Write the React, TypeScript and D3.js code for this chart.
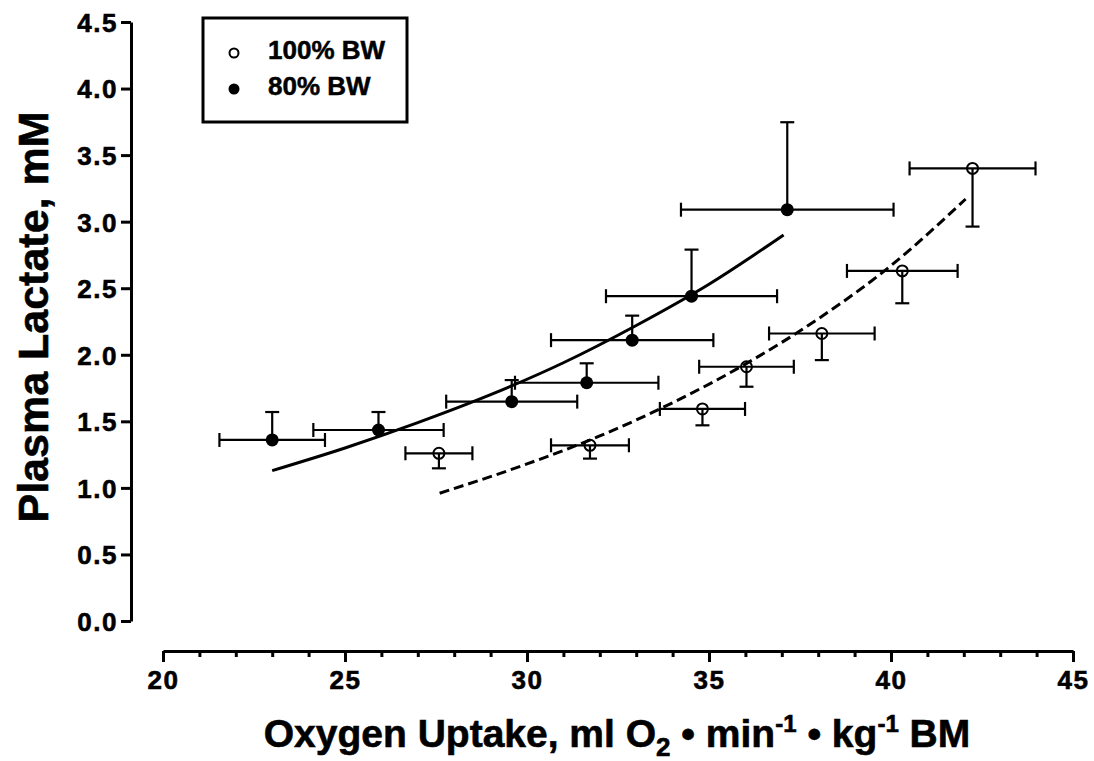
import * as d3 from "d3";
import { useEffect, useRef } from "react";

// 80% BW (filled circles)
const bw80X = [23.0, 25.92, 29.58, 31.64, 32.89, 34.52, 37.15];
const bw80Y = [1.36, 1.435, 1.648, 1.79, 2.11, 2.44, 3.09];
const bw80XErr = [1.45, 1.79, 1.8, 1.97, 2.23, 2.35, 2.92];
const bw80YErrUp = [0.21, 0.135, 0.162, 0.146, 0.184, 0.35, 0.657];

// 100% BW (open circles)
const bw100X = [27.58, 31.73, 34.82, 36.03, 38.1, 40.31, 42.24];
const bw100Y = [1.26, 1.32, 1.593, 1.91, 2.16, 2.63, 3.4];
const bw100XErr = [0.92, 1.07, 1.17, 1.3, 1.45, 1.52, 1.73];
const bw100YErrDown = [0.113, 0.1, 0.123, 0.15, 0.2, 0.243, 0.437];

// fitted curves
const fit80X = [23.0, 25, 27, 29, 31, 33, 35, 37.05];
const fit80Y = [1.13, 1.3, 1.49, 1.7, 1.94, 2.22, 2.53, 2.9];
const fit100X = [27.6, 30, 32, 34, 36, 38, 40, 42.05];
const fit100Y = [0.96, 1.18, 1.39, 1.64, 1.93, 2.27, 2.67, 3.17];

const xMajor = [20, 25, 30, 35, 40, 45];
const yTicks = [0, 0.5, 1, 1.5, 2, 2.5, 3, 3.5, 4, 4.5];

const legendLabels = ["100% BW", "80% BW"];

const FONT = "'Liberation Sans', Arial, Helvetica, sans-serif";

export default function App() {
  const ref = useRef<SVGSVGElement | null>(null);

  useEffect(() => {
    if (!ref.current) return;
    const svg = d3.select(ref.current);
    svg.selectAll("*").remove();

    const x = d3.scaleLinear().domain([20, 45]).range([163, 1073]);
    const y = d3.scaleLinear().domain([0, 4.5]).range([621, 22]);
    const yAxisX = 131;
    const xAxisY = 651;

    // y axis
    const yAxis = d3
      .axisLeft(y)
      .tickValues(yTicks)
      .tickSize(10)
      .tickSizeOuter(0)
      .tickPadding(3)
      .tickFormat((v) => d3.format(".1f")(v as number));
    const gy = svg.append("g").attr("transform", `translate(${yAxisX},0)`).call(yAxis);
    gy.selectAll("text")
      .style("font-family", FONT)
      .style("font-weight", "bold")
      .style("font-size", "26px")
      .style("letter-spacing", "1.5px")
      .attr("dy", "0.36em")
      .attr("fill", "#000")
      .attr("stroke", "#000")
      .attr("stroke-width", 0.6);

    // x axis: major + minor
    const xAxis = d3
      .axisBottom(x)
      .tickValues(xMajor)
      .tickSize(11)
      .tickSizeOuter(0)
      .tickPadding(9)
      .tickFormat((v) => d3.format("d")(v as number));
    const gx = svg.append("g").attr("transform", `translate(0,${xAxisY})`).call(xAxis);
    gx.selectAll("text")
      .style("font-family", FONT)
      .style("font-weight", "bold")
      .style("font-size", "26px")
      .style("letter-spacing", "1.5px")
      .attr("fill", "#000")
      .attr("stroke", "#000")
      .attr("stroke-width", 0.6);

    const minor = d3.range(21, 45).filter((v) => v % 5 !== 0);
    const xMinor = d3.axisBottom(x).tickValues(minor).tickSize(6).tickSizeOuter(0).tickFormat(() => "");
    const gm = svg.append("g").attr("transform", `translate(0,${xAxisY})`).call(xMinor);
    gm.select(".domain").remove();

    svg.selectAll(".domain").attr("stroke", "#000").attr("stroke-width", 3);
    svg.selectAll(".tick line").attr("stroke", "#000").attr("stroke-width", 3);

    // fitted curves
    const line = d3
      .line<[number, number]>()
      .x((d) => x(d[0]))
      .y((d) => y(d[1]))
      .curve(d3.curveMonotoneX);

    svg
      .append("path")
      .datum(fit80X.map((v, i) => [v, fit80Y[i]] as [number, number]))
      .attr("fill", "none")
      .attr("stroke", "#000")
      .attr("stroke-width", 3)
      .attr("d", line);

    svg
      .append("path")
      .datum(fit100X.map((v, i) => [v, fit100Y[i]] as [number, number]))
      .attr("fill", "none")
      .attr("stroke", "#000")
      .attr("stroke-width", 3)
      .attr("stroke-dasharray", "10,5")
      .attr("d", line);

    // error bars
    const cap = 7;
    const errG = svg.append("g").attr("stroke", "#000").attr("stroke-width", 2.2).attr("fill", "none");

    const drawErr = (xs: number[], ys: number[], xe: number[], ye: number[], dir: 1 | -1) => {
      xs.forEach((xv, i) => {
        const cx = x(xv);
        const cy = y(ys[i]);
        const x0 = x(xv - xe[i]);
        const x1 = x(xv + xe[i]);
        errG.append("line").attr("x1", x0).attr("x2", x1).attr("y1", cy).attr("y2", cy);
        errG.append("line").attr("x1", x0).attr("x2", x0).attr("y1", cy - cap).attr("y2", cy + cap);
        errG.append("line").attr("x1", x1).attr("x2", x1).attr("y1", cy - cap).attr("y2", cy + cap);
        const ey = y(ys[i] + dir * ye[i]);
        errG.append("line").attr("x1", cx).attr("x2", cx).attr("y1", cy).attr("y2", ey);
        errG.append("line").attr("x1", cx - cap).attr("x2", cx + cap).attr("y1", ey).attr("y2", ey);
      });
    };
    drawErr(bw80X, bw80Y, bw80XErr, bw80YErrUp, 1);
    drawErr(bw100X, bw100Y, bw100XErr, bw100YErrDown, -1);

    // markers
    svg
      .append("g")
      .selectAll("circle")
      .data(bw80X)
      .join("circle")
      .attr("cx", (d) => x(d))
      .attr("cy", (_, i) => y(bw80Y[i]))
      .attr("r", 6.5)
      .attr("fill", "#000");

    svg
      .append("g")
      .selectAll("circle")
      .data(bw100X)
      .join("circle")
      .attr("cx", (d) => x(d))
      .attr("cy", (_, i) => y(bw100Y[i]))
      .attr("r", 5.5)
      .attr("fill", "none")
      .attr("stroke", "#000")
      .attr("stroke-width", 2);

    // legend
    const lg = svg.append("g");
    lg.append("rect")
      .attr("x", 203)
      .attr("y", 18)
      .attr("width", 204)
      .attr("height", 104)
      .attr("fill", "#fff")
      .attr("stroke", "#000")
      .attr("stroke-width", 3);
    lg.append("circle").attr("cx", 234).attr("cy", 53).attr("r", 4.5).attr("fill", "none").attr("stroke", "#000").attr("stroke-width", 2);
    lg.append("circle").attr("cx", 234).attr("cy", 89).attr("r", 5.5).attr("fill", "#000");
    legendLabels.forEach((t, i) => {
      lg.append("text")
        .attr("x", 268)
        .attr("y", 59 + i * 36)
        .attr("font-family", FONT)
        .attr("font-weight", "bold")
        .attr("font-size", 26)
        .attr("fill", "#000")
        .attr("stroke", "#000")
        .attr("stroke-width", 0.5)
        .text(t);
    });

    // axis titles
    svg
      .append("text")
      .attr("transform", "translate(48,317) rotate(-90)")
      .attr("text-anchor", "middle")
      .attr("font-family", FONT)
      .attr("font-weight", "bold")
      .attr("font-size", 43)
      .attr("fill", "#000")
      .attr("stroke", "#000")
      .attr("stroke-width", 0.6)
      .text("Plasma Lactate, mM");

    const xt = svg
      .append("text")
      .attr("x", 617)
      .attr("y", 747)
      .attr("text-anchor", "middle")
      .attr("font-family", FONT)
      .attr("font-weight", "bold")
      .attr("font-size", 39)
      .attr("fill", "#000")
      .attr("stroke", "#000")
      .attr("stroke-width", 0.6);
    xt.append("tspan").text("Oxygen Uptake, ml O");
    xt.append("tspan").attr("font-size", 26).attr("dy", 9).text("2");
    xt.append("tspan").attr("dy", -9).text(" \u2022 min");
    xt.append("tspan").attr("font-size", 24).attr("dy", -15).text("-1");
    xt.append("tspan").attr("dy", 15).text(" \u2022 kg");
    xt.append("tspan").attr("font-size", 24).attr("dy", -15).text("-1");
    xt.append("tspan").attr("dy", 15).text(" BM");
  }, []);

  return (
    <svg
      ref={ref}
      width={1094}
      height={761}
      style={{ position: "absolute", left: 0, top: 0, background: "#fff", display: "block" }}
      role="img"
      aria-label="Plasma lactate vs oxygen uptake"
    />
  );
}
